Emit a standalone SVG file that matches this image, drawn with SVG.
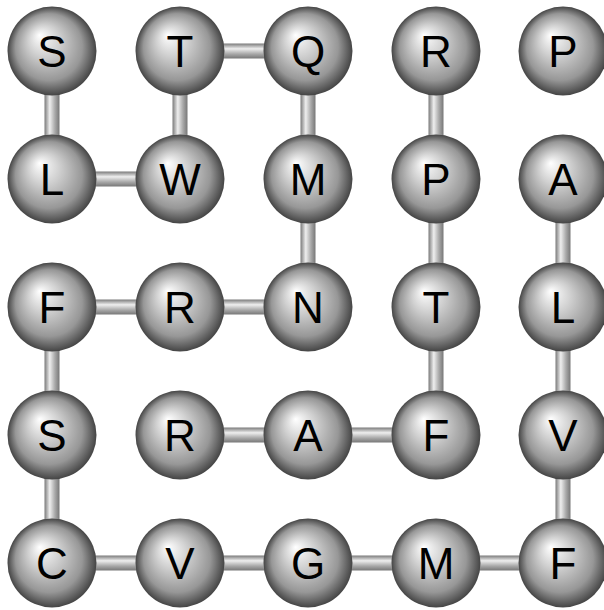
<svg xmlns="http://www.w3.org/2000/svg" width="604" height="610" viewBox="0 0 604 610">
<defs>
<radialGradient id="ball" cx="0.5" cy="0.5" r="0.5" fx="0.36" fy="0.32">
<stop offset="0" stop-color="#ffffff"/>
<stop offset="0.35" stop-color="#d0d0d0"/>
<stop offset="0.75" stop-color="#979797"/>
<stop offset="0.95" stop-color="#555555"/>
<stop offset="1" stop-color="#444444"/>
</radialGradient>
<linearGradient id="vbar" x1="0" y1="0" x2="1" y2="0">
<stop offset="0" stop-color="#7a7a7a"/>
<stop offset="0.35" stop-color="#eeeeee"/>
<stop offset="0.7" stop-color="#a8a8a8"/>
<stop offset="1" stop-color="#777777"/>
</linearGradient>
<linearGradient id="hbar" x1="0" y1="0" x2="0" y2="1">
<stop offset="0" stop-color="#7a7a7a"/>
<stop offset="0.35" stop-color="#eeeeee"/>
<stop offset="0.7" stop-color="#a8a8a8"/>
<stop offset="1" stop-color="#777777"/>
</linearGradient>
</defs>
<style>
.v{fill:url(#vbar)}
.h{fill:url(#hbar)}
.b{fill:url(#ball)}
.t{font-family:"Liberation Sans",Arial,sans-serif;font-size:44px;fill:#000;text-anchor:middle}
</style>
<rect width="604" height="610" fill="#ffffff"/>
<g id="connectors">
<rect class="v" x="44.5" y="51" width="15" height="128"/>
<rect class="h" x="180" y="43.5" width="128" height="15"/>
<rect class="v" x="172.5" y="51" width="15" height="128"/>
<rect class="v" x="300.5" y="51" width="15" height="128"/>
<rect class="v" x="428.5" y="51" width="15" height="128"/>
<rect class="h" x="52" y="171.5" width="128" height="15"/>
<rect class="v" x="300.5" y="179" width="15" height="128"/>
<rect class="v" x="428.5" y="179" width="15" height="128"/>
<rect class="v" x="555.5" y="179" width="15" height="128"/>
<rect class="h" x="52" y="299.5" width="128" height="15"/>
<rect class="h" x="180" y="299.5" width="128" height="15"/>
<rect class="v" x="44.5" y="307" width="15" height="128"/>
<rect class="v" x="428.5" y="307" width="15" height="128"/>
<rect class="v" x="555.5" y="307" width="15" height="128"/>
<rect class="h" x="180" y="427.5" width="128" height="15"/>
<rect class="h" x="308" y="427.5" width="128" height="15"/>
<rect class="v" x="44.5" y="435" width="15" height="128"/>
<rect class="v" x="555.5" y="435" width="15" height="128"/>
<rect class="h" x="52" y="555.5" width="128" height="15"/>
<rect class="h" x="180" y="555.5" width="128" height="15"/>
<rect class="h" x="308" y="555.5" width="128" height="15"/>
<rect class="h" x="436" y="555.5" width="127" height="15"/>
</g>
<g id="n00"><circle class="b" cx="52" cy="51" r="44.5"/><text class="t" x="52" y="67">S</text></g>
<g id="n01"><circle class="b" cx="180" cy="51" r="44.5"/><text class="t" x="180" y="67">T</text></g>
<g id="n02"><circle class="b" cx="308" cy="51" r="44.5"/><text class="t" x="308" y="67">Q</text></g>
<g id="n03"><circle class="b" cx="436" cy="51" r="44.5"/><text class="t" x="436" y="67">R</text></g>
<g id="n04"><circle class="b" cx="563" cy="51" r="44.5"/><text class="t" x="563" y="67">P</text></g>
<g id="n10"><circle class="b" cx="52" cy="179" r="44.5"/><text class="t" x="52" y="195">L</text></g>
<g id="n11"><circle class="b" cx="180" cy="179" r="44.5"/><text class="t" x="180" y="195">W</text></g>
<g id="n12"><circle class="b" cx="308" cy="179" r="44.5"/><text class="t" x="308" y="195">M</text></g>
<g id="n13"><circle class="b" cx="436" cy="179" r="44.5"/><text class="t" x="436" y="195">P</text></g>
<g id="n14"><circle class="b" cx="563" cy="179" r="44.5"/><text class="t" x="563" y="195">A</text></g>
<g id="n20"><circle class="b" cx="52" cy="307" r="44.5"/><text class="t" x="52" y="323">F</text></g>
<g id="n21"><circle class="b" cx="180" cy="307" r="44.5"/><text class="t" x="180" y="323">R</text></g>
<g id="n22"><circle class="b" cx="308" cy="307" r="44.5"/><text class="t" x="308" y="323">N</text></g>
<g id="n23"><circle class="b" cx="436" cy="307" r="44.5"/><text class="t" x="436" y="323">T</text></g>
<g id="n24"><circle class="b" cx="563" cy="307" r="44.5"/><text class="t" x="563" y="323">L</text></g>
<g id="n30"><circle class="b" cx="52" cy="435" r="44.5"/><text class="t" x="52" y="451">S</text></g>
<g id="n31"><circle class="b" cx="180" cy="435" r="44.5"/><text class="t" x="180" y="451">R</text></g>
<g id="n32"><circle class="b" cx="308" cy="435" r="44.5"/><text class="t" x="308" y="451">A</text></g>
<g id="n33"><circle class="b" cx="436" cy="435" r="44.5"/><text class="t" x="436" y="451">F</text></g>
<g id="n34"><circle class="b" cx="563" cy="435" r="44.5"/><text class="t" x="563" y="451">V</text></g>
<g id="n40"><circle class="b" cx="52" cy="563" r="44.5"/><text class="t" x="52" y="579">C</text></g>
<g id="n41"><circle class="b" cx="180" cy="563" r="44.5"/><text class="t" x="180" y="579">V</text></g>
<g id="n42"><circle class="b" cx="308" cy="563" r="44.5"/><text class="t" x="308" y="579">G</text></g>
<g id="n43"><circle class="b" cx="436" cy="563" r="44.5"/><text class="t" x="436" y="579">M</text></g>
<g id="n44"><circle class="b" cx="563" cy="563" r="44.5"/><text class="t" x="563" y="579">F</text></g>
</svg>
